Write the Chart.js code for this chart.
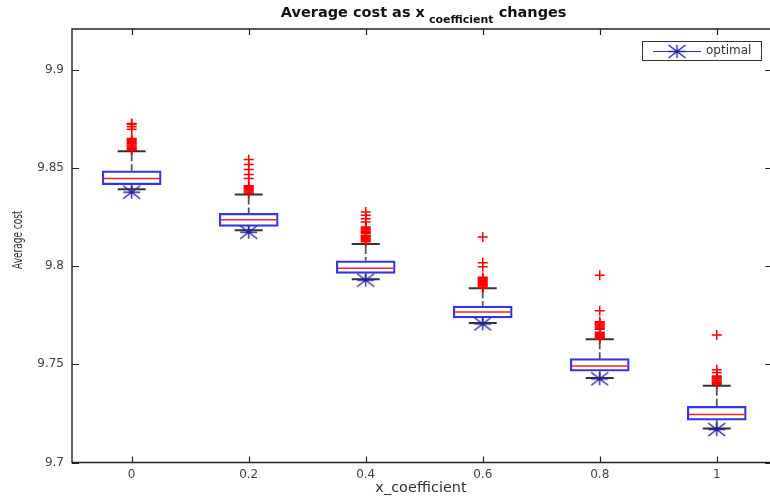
<!DOCTYPE html>
<html>
<head>
<meta charset="utf-8">
<script src="https://cdn.jsdelivr.net/npm/chart.js@4.4.0/dist/chart.umd.min.js"></script>
<style>
  html, body { margin: 0; padding: 0; background: #fff; overflow: hidden; }
</style>
</head>
<body>
<canvas id="chart" width="770" height="500"></canvas>
<script>
// box plot values, one entry per x_coefficient
const categories = ['0', '0.2', '0.4', '0.6', '0.8', '1'];
const lowerWhisker = [9.8392, 9.8183, 9.7934, 9.7711, 9.7431, 9.7173];
const q1 = [9.8415, 9.8203, 9.7963, 9.7736, 9.7465, 9.7215];
const median = [9.8447, 9.8236, 9.7990, 9.7767, 9.7492, 9.7244];
const q3 = [9.8486, 9.8269, 9.8027, 9.7797, 9.7529, 9.7286];
const upperWhisker = [9.8585, 9.8365, 9.8113, 9.7887, 9.7628, 9.7391];
const optimal = [9.8377, 9.8173, 9.7929, 9.7706, 9.7426, 9.7168];
const outliers = [
    [9.8590, 9.8596, 9.8601, 9.8606, 9.8612, 9.8617, 9.8623, 9.8628, 9.8634, 9.8640, 9.8645, 9.8650, 9.8697, 9.8710, 9.8721, 9.8727],
    [9.8372, 9.8378, 9.8383, 9.8389, 9.8394, 9.8400, 9.8405, 9.8410, 9.8447, 9.8467, 9.8492, 9.8518, 9.8543],
    [9.8125, 9.8130, 9.8136, 9.8141, 9.8147, 9.8152, 9.8157, 9.8168, 9.8173, 9.8178, 9.8184, 9.8189, 9.8195, 9.8200, 9.8225, 9.8242, 9.8259, 9.8276],
    [9.7889, 9.7894, 9.7900, 9.7905, 9.7911, 9.7916, 9.7922, 9.7927, 9.7933, 9.7938, 9.7944, 9.7997, 9.8017, 9.8149],
    [9.7630, 9.7635, 9.7641, 9.7646, 9.7652, 9.7657, 9.7663, 9.7679, 9.7684, 9.7690, 9.7695, 9.7701, 9.7706, 9.7712, 9.7717, 9.7773, 9.7954],
    [9.7398, 9.7404, 9.7409, 9.7415, 9.7420, 9.7426, 9.7431, 9.7437, 9.7441, 9.7458, 9.7472, 9.7650]
];
const yTicks = [9.7, 9.75, 9.8, 9.85, 9.9];

const FONT = '"DejaVu Sans", sans-serif';
const BLUE = '#3535e8';
const RED = '#ee2222';
const STAR = '#24249e';

// MATLAB style asterisk, a bit wider than tall like in the picture
function makeStar() {
    const c = document.createElement('canvas');
    c.width = 19; c.height = 15;
    const g = c.getContext('2d');
    g.strokeStyle = STAR;
    g.lineWidth = 1.4;
    g.beginPath();
    g.moveTo(1, 1); g.lineTo(18, 14);
    g.moveTo(1, 14); g.lineTo(18, 1);
    g.moveTo(9.5, 1); g.lineTo(9.5, 14);
    g.moveTo(1, 7.5); g.lineTo(18, 7.5);
    g.stroke();
    return c;
}
const starImg = makeStar();

const whiskerPoints = [];
categories.forEach((c, i) => {
    whiskerPoints.push({x: i, y: upperWhisker[i]}, {x: i, y: q3[i]}, {x: i, y: null});
    whiskerPoints.push({x: i, y: lowerWhisker[i]}, {x: i, y: q1[i]}, {x: i, y: null});
});
const capPoints = [];
categories.forEach((c, i) => {
    capPoints.push({x: i, y: upperWhisker[i]}, {x: i, y: lowerWhisker[i]});
});
const outlierPoints = [];
outliers.forEach((list, i) => list.forEach(v => outlierPoints.push({x: i, y: v})));

// title, y label, frame with inward ticks, legend
const decorations = {
    id: 'decorations',
    afterDraw(chart) {
        const {ctx, chartArea: a, scales: {x, y}} = chart;
        const right = x.getPixelForValue(5.5);
        ctx.save();

        // frame + ticks
        ctx.strokeStyle = '#222';
        ctx.lineWidth = 1.4;
        ctx.beginPath();
        ctx.moveTo(right, a.top); ctx.lineTo(a.left, a.top);
        ctx.lineTo(a.left, a.bottom); ctx.lineTo(right, a.bottom);
        ctx.stroke();
        ctx.lineWidth = 1.2;
        ctx.beginPath();
        categories.forEach((c, i) => {
            const px = Math.round(x.getPixelForValue(i)) + 0.5;
            ctx.moveTo(px, a.bottom); ctx.lineTo(px, a.bottom - 6);
            ctx.moveTo(px, a.top); ctx.lineTo(px, a.top + 6);
        });
        yTicks.forEach(v => {
            const py = Math.round(y.getPixelForValue(v)) + 0.5;
            ctx.moveTo(a.left, py); ctx.lineTo(a.left + 7, py);
            ctx.moveTo(right, py); ctx.lineTo(right - 10, py);
        });
        ctx.stroke();

        // title with subscript
        const cx = (a.left + right) / 2;
        const t1 = 'Average cost as x', ts = 'coefficient', t2 = ' changes';
        ctx.fillStyle = '#111';
        ctx.font = 'bold 14.5px ' + FONT;
        const w1 = ctx.measureText(t1).width, w2 = ctx.measureText(t2).width;
        ctx.font = 'bold 11px ' + FONT;
        const ws = ctx.measureText(ts).width;
        let tx = cx - (w1 + 4 + ws + w2) / 2;
        ctx.textBaseline = 'alphabetic';
        ctx.textAlign = 'left';
        ctx.font = 'bold 14.5px ' + FONT;
        ctx.fillText(t1, tx, 17);
        ctx.font = 'bold 11px ' + FONT;
        ctx.fillText(ts, tx + w1 + 4, 22.5);
        ctx.font = 'bold 14.5px ' + FONT;
        ctx.fillText(t2, tx + w1 + 4 + ws, 17);

        // y axis label, squeezed along its length like the picture
        ctx.save();
        ctx.translate(18, (a.top + a.bottom) / 2 - 6);
        ctx.rotate(-Math.PI / 2);
        ctx.scale(0.75, 1.15);
        ctx.font = '12px ' + FONT;
        ctx.fillStyle = '#333';
        ctx.textAlign = 'center';
        ctx.textBaseline = 'middle';
        ctx.fillText('Average cost', 0, 0);
        ctx.restore();

        // legend
        ctx.fillStyle = '#fff';
        ctx.fillRect(642.5, 41.5, 119, 19);
        ctx.strokeStyle = '#333';
        ctx.lineWidth = 1;
        ctx.strokeRect(642.5, 41.5, 119, 19);
        ctx.strokeStyle = '#2a2ad8';
        ctx.lineWidth = 1.2;
        ctx.beginPath();
        ctx.moveTo(653, 51.5); ctx.lineTo(701, 51.5);
        ctx.stroke();
        ctx.drawImage(starImg, 677 - 9.5, 51.5 - 7.5);
        ctx.fillStyle = '#333';
        ctx.font = '12px ' + FONT;
        ctx.textAlign = 'left';
        ctx.textBaseline = 'middle';
        ctx.fillText('optimal', 706, 51);
        ctx.restore();
    }
};

new Chart(document.getElementById('chart'), {
    type: 'bar',
    data: {
        datasets: [{
            type: 'scatter',
            label: 'optimal',
            data: optimal.map((v, i) => ({x: i, y: v})),
            pointStyle: starImg,
            pointRadius: 8,
            borderColor: STAR
        }, {
            type: 'scatter',
            label: 'outliers',
            data: outlierPoints,
            pointStyle: 'cross',
            pointRadius: 5,
            pointBorderColor: '#ff0000',
            pointBorderWidth: 1.5
        }, {
            type: 'scatter',
            label: 'median',
            data: median.map((v, i) => ({x: i, y: v})),
            pointStyle: 'line',
            pointRadius: 28,
            pointBorderColor: RED,
            pointBorderWidth: 1.5
        }, {
            label: 'box',
            data: categories.map((c, i) => ({x: i, y: [q1[i], q3[i]]})),
            backgroundColor: 'rgba(255,255,255,0)',
            borderColor: BLUE,
            borderWidth: 1.6,
            borderSkipped: false,
            barThickness: 59
        }, {
            type: 'scatter',
            label: 'caps',
            data: capPoints,
            pointStyle: 'line',
            pointRadius: 14,
            pointBorderColor: '#333',
            pointBorderWidth: 2
        }, {
            type: 'line',
            label: 'whiskers',
            data: whiskerPoints,
            borderColor: '#555',
            borderWidth: 1.8,
            borderDash: [10, 3],
            pointRadius: 0,
            spanGaps: false
        }]
    },
    options: {
        responsive: false,
        animation: false,
        events: [],
        layout: {padding: {top: 29, left: 0, right: 0, bottom: 0}, autoPadding: false},
        plugins: {legend: {display: false}, tooltip: {enabled: false}},
        scales: {
            x: {
                type: 'linear',
                offset: false,
                min: -0.51,
                max: 5.455,
                grid: {display: false, drawTicks: false, offset: false},
                border: {display: false},
                afterBuildTicks: s => { s.ticks = categories.map((c, i) => ({value: i})); },
                afterFit: s => { s.height = 37.5; s.paddingLeft = 0; s.paddingRight = 0; },
                ticks: {
                    padding: 5,
                    color: '#444',
                    font: {family: FONT, size: 12},
                    callback: v => categories[v]
                },
                title: {
                    display: true,
                    text: 'x_coefficient',
                    color: '#333',
                    font: {family: FONT, size: 14.5},
                    padding: {top: 0, bottom: 3}
                }
            },
            y: {
                min: 9.7,
                max: 9.9208,
                grid: {display: false, drawTicks: false},
                border: {display: false},
                afterBuildTicks: s => { s.ticks = yTicks.map(v => ({value: v})); },
                afterFit: s => { s.width = 72; s.paddingTop = 0; s.paddingBottom = 0; },
                ticks: {
                    padding: 8,
                    color: '#444',
                    font: {family: FONT, size: 12},
                    callback: v => String(v)
                }
            }
        }
    },
    plugins: [decorations]
});
</script>
</body>
</html>
